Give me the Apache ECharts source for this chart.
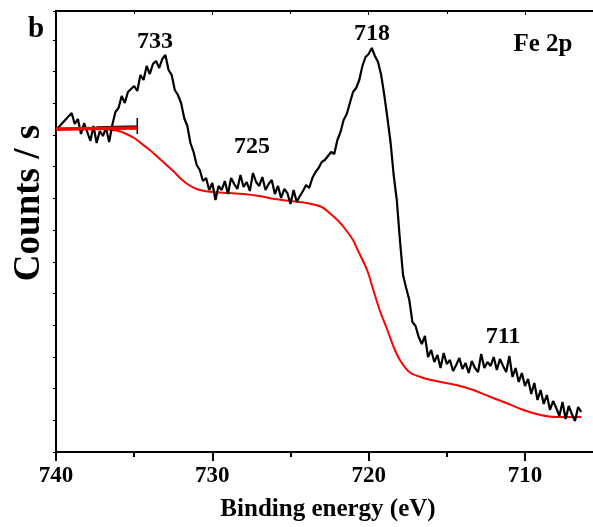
<!DOCTYPE html>
<html>
<head>
<meta charset="utf-8">
<script src="https://cdn.jsdelivr.net/npm/echarts@6/dist/echarts.min.js"></script>
<style>
  html, body { margin: 0; padding: 0; background: #fff; }
  #chart { width: 593px; height: 527px; }
</style>
</head>
<body>
<div id="chart"></div>
<script>
/*
 * Fe 2p XPS spectrum (panel b)
 * counts are in arbitrary units
 */

var FONT = '"Liberation Serif", "Times New Roman", serif';

// measured spectrum
var bindingEnergy = [
	740.0, 739.0, 738.8, 738.6, 738.4, 738.2, 738.0, 737.8, 737.6, 737.4, 737.2, 737.0, 736.8, 736.6, 736.4, 736.2,
	736.0, 735.8, 735.6, 735.4, 735.2, 735.0, 734.8, 734.6, 734.4, 734.2, 734.0, 733.8, 733.6, 733.4, 733.2, 733.0,
	732.8, 732.6, 732.4, 732.2, 732.0, 731.8, 731.6, 731.4, 731.2, 731.0, 730.8, 730.6, 730.4, 730.2, 730.0,
	729.8, 729.6, 729.4, 729.2, 729.0, 728.8, 728.6, 728.4, 728.2, 728.0, 727.8, 727.6, 727.4, 727.2, 727.0,
	726.8, 726.6, 726.4, 726.2, 726.0, 725.8, 725.6, 725.4, 725.2, 725.0, 724.8, 724.6, 724.4, 724.2, 724.0,
	723.8, 723.6, 723.4, 723.2, 723.0, 722.8, 722.6, 722.4, 722.2, 722.0, 721.8, 721.6, 721.4, 721.2, 721.0,
	720.8, 720.6, 720.4, 720.2, 720.0, 719.8, 719.6, 719.4, 719.2, 719.0, 718.8, 718.6, 718.4, 718.2, 718.0,
	717.8, 717.6, 717.4, 717.2, 717.0, 716.8, 716.6, 716.4, 716.2, 716.0, 715.8, 715.6, 715.4, 715.2, 715.0,
	714.8, 714.6, 714.4, 714.2, 714.0, 713.8, 713.6, 713.4, 713.2, 713.0, 712.8, 712.6, 712.4, 712.2, 712.0,
	711.8, 711.6, 711.4, 711.2, 711.0, 710.8, 710.6, 710.4, 710.2, 710.0, 709.8, 709.6, 709.4, 709.2, 709.0,
	708.8, 708.6, 708.4, 708.2, 708.0, 707.8, 707.6, 707.4, 707.2, 707.0, 706.8, 706.6, 706.4
];
var counts = [
	322, 339, 328, 333, 318, 329, 320, 311, 326, 309, 321, 316, 324, 310, 327, 340,
	344, 356, 349, 360, 363, 366, 361, 377, 372, 386, 378, 388, 391, 384, 393, 397,
	382, 377, 362, 357, 349, 334, 326, 309, 300, 287, 282, 271, 274, 262, 269,
	252, 266, 262, 271, 258, 274, 268, 263, 277, 265, 270, 261, 279, 270, 266,
	275, 262, 268, 272, 258, 266, 254, 263, 259, 248, 262, 250, 256, 261, 267,
	264, 274, 280, 284, 290, 292, 296, 300, 298, 312, 320, 332, 338, 349, 360,
	364, 372, 386, 395, 398, 404, 396, 390, 377, 357, 334, 310, 277, 252, 212,
	177, 164, 152, 130, 126, 115, 108, 116, 95, 102, 90, 97, 84, 99, 88,
	92, 81, 87, 94, 83, 89, 79, 91, 84, 80, 98, 84, 90, 86, 95,
	82, 93, 86, 80, 96, 75, 84, 70, 79, 66, 73, 58, 69, 52, 62,
	48, 57, 42, 51, 44, 36, 50, 33, 46, 38, 31, 45, 40
];

// Shirley background (red)
var bgEnergy = [740, 738, 737, 736.5, 736, 735.5, 735, 734.5, 734, 733.5, 733, 732.5, 732, 731.5, 731, 730.5, 730,
	729, 728, 727, 726, 725, 724, 723, 722.5, 722, 721.6, 721, 720.7, 720.1, 719.7, 719.3, 718.8, 718.4, 718,
	717.4, 716.5, 715.4, 714.4, 713.3, 712.2, 711.2, 710.1, 709, 708, 706.4];
var bgCounts = [322, 323, 323, 322, 321, 318, 314, 308, 302, 295, 288, 281, 273, 267, 263, 261, 260,
	259, 258, 256, 253, 251, 249, 245, 239, 232, 225, 212, 202, 182, 162, 142, 122, 105, 92,
	80, 74, 70, 67, 62, 55, 49, 42, 37, 35, 35];

// fit range markers near the left edge
var rangeEnergyRed = [740, 734.8];
var rangeCountsRed = [323, 324];
var rangeEnergyBlack = [737.4, 734.8, 734.8, 734.8];
var rangeCountsBlack = [325, 326, 334, 318];

// peak labels
var peakNames = ['733', '725', '718', '711'];
var peakLabelX = [155, 252, 372, 503];
var peakLabelY = [42, 147, 34, 337];

function zip(xs, ys) {
	var out = [];
	for (var i = 0; i < xs.length; i++) {
		out.push([xs[i], ys[i]]);
	}
	return out;
}

function boldText(text, x, y, size, rot) {
	return {
		type: 'text',
		x: x,
		y: y,
		rotation: rot || 0,
		silent: true,
		style: {
			text: text,
			font: 'bold ' + size + 'px ' + FONT,
			fill: '#000',
			align: 'center',
			verticalAlign: 'middle',
			textAlign: 'center',
			textVerticalAlign: 'middle'
		}
	};
}

var graphics = [];
for (var i in peakNames) {
	graphics.push(boldText(peakNames[i], peakLabelX[i], peakLabelY[i], 24));
}
graphics.push(boldText('Fe 2p', 543, 45, 25));
graphics.push(boldText('b', 36, 30, 29));
graphics.push(boldText('Binding energy (eV)', 328, 510, 25));
graphics.push(boldText('Counts / s', 29, 203, 37, Math.PI / 2));

var chart = echarts.init(document.getElementById('chart'));
var option = {
	animation: false,
	backgroundColor: '#fff',
	// the axis runs on to 700 eV, past the right edge of the picture
	grid: { left: 56, top: 11, bottom: 75, right: -88.3, containLabel: false, outerBoundsMode: 'none' },
	xAxis: [
		{
			type: 'value',
			position: 'bottom',
			inverse: true,
			min: 700,
			max: 740,
			interval: 10,
			axisLine: { lineStyle: { color: '#000', width: 2 } },
			axisTick: { inside: false, length: 9, lineStyle: { color: '#000', width: 2 } },
			minorTick: { show: true, splitNumber: 2, length: 5, lineStyle: { color: '#000', width: 2 } },
			axisLabel: { color: '#000', fontFamily: FONT, fontWeight: 'bold', fontSize: 23, margin: 13 },
			splitLine: { show: false }
		},
		{
			type: 'value',
			position: 'top',
			inverse: true,
			min: 700,
			max: 740,
			interval: 10,
			axisLine: { lineStyle: { color: '#000', width: 2 } },
			axisTick: { inside: true, length: 4, lineStyle: { color: '#000', width: 1 } },
			minorTick: { show: true, splitNumber: 2, length: 3, lineStyle: { color: '#000', width: 1 } },
			axisLabel: { show: false },
			splitLine: { show: false }
		}
	],
	yAxis: {
		type: 'value',
		min: 0,
		max: 441,
		interval: 31.7,
		axisLine: { show: true, lineStyle: { color: '#000', width: 2 } },
		axisTick: { show: true, inside: false, length: 3, lineStyle: { color: '#000', width: 1 } },
		axisLabel: { show: false },
		splitLine: { show: false }
	},
	series: [
		{
			name: 'background',
			type: 'line',
			data: zip(bgEnergy, bgCounts),
			showSymbol: false,
			smooth: 0.3,
			lineStyle: { color: '#ff0000', width: 2 },
			z: 3
		},
		{
			name: 'range red',
			type: 'line',
			data: zip(rangeEnergyRed, rangeCountsRed),
			showSymbol: false,
			lineStyle: { color: '#ff0000', width: 3.5 },
			z: 5
		},
		{
			name: 'range black',
			type: 'line',
			data: zip(rangeEnergyBlack, rangeCountsBlack),
			showSymbol: false,
			lineStyle: { color: '#000', width: 1.5 },
			z: 2
		},
		{
			name: 'Fe 2p',
			type: 'line',
			data: zip(bindingEnergy, counts),
			showSymbol: false,
			lineStyle: { color: '#000', width: 2.2 },
			z: 4
		}
	],
	graphic: graphics
};
chart.setOption(option);
</script>
</body>
</html>
